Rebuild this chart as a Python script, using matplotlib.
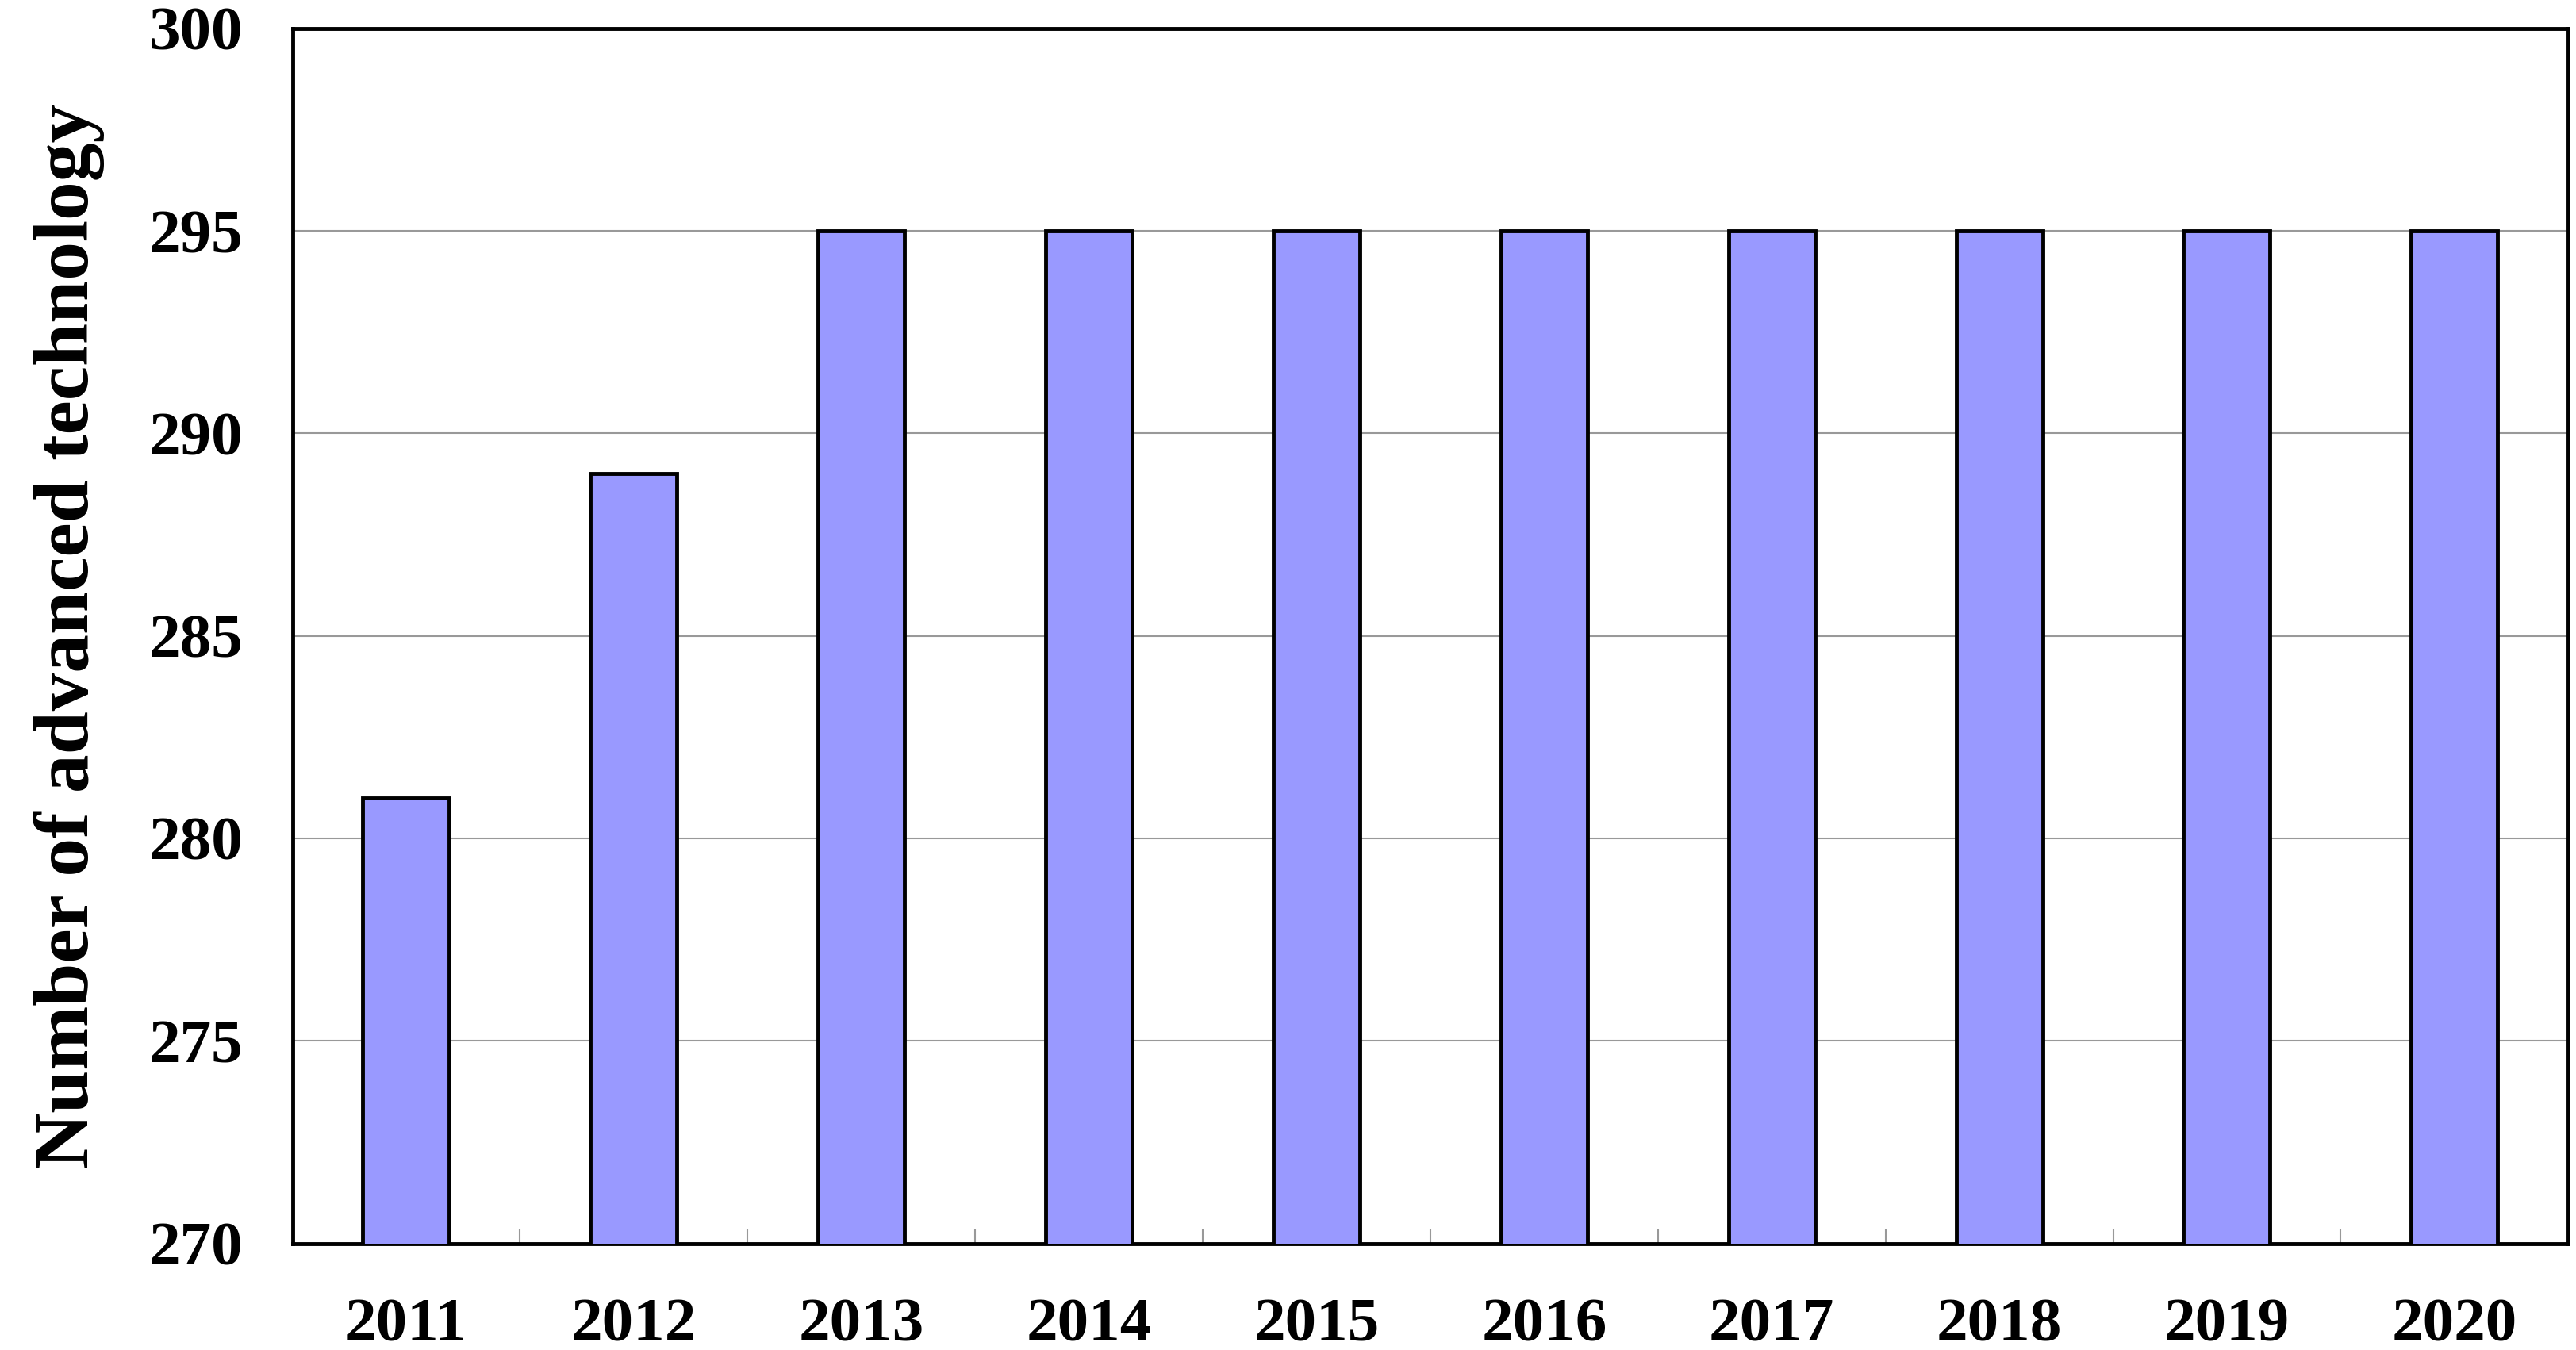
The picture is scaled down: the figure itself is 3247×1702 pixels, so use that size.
import matplotlib.pyplot as plt
import numpy as np

years = ['2011', '2012', '2013', '2014', '2015', '2016', '2017', '2018', '2019', '2020']
counts = [281, 289, 295, 295, 295, 295, 295, 295, 295, 295]

plt.rcParams['font.family'] = ['Liberation Serif', 'DejaVu Serif']
plt.rcParams['font.weight'] = 'bold'

fig = plt.figure(figsize=(32.47, 17.02), dpi=100)
ax = fig.add_axes([0.1135, 0.079, 0.8835, 0.9])

x = np.arange(len(years))
ax.bar(x, counts, width=0.38, color='#9999FF', edgecolor='black', linewidth=3.5, zorder=3)

ax.set_ylim(270, 300)
ax.set_xlim(-0.5, len(years) - 0.5)
ax.set_yticks(np.arange(270, 301, 5))
ax.yaxis.grid(True, color='#999999', linewidth=1.5, zorder=0)
ax.set_xticks(x)
ax.set_xticklabels(years)
ax.set_xticks(np.arange(0.5, len(years) - 1, 1), minor=True)
ax.tick_params(axis='x', which='major', length=0, pad=50, labelsize=57)
ax.tick_params(axis='x', which='minor', direction='in', length=14, width=1.5, color='#999999')
ax.tick_params(axis='y', length=0, pad=45, labelsize=57)
for s in ax.spines.values():
    s.set_linewidth(3.5)

ax.set_ylabel('Number of advanced technology', fontsize=70, fontweight='bold', labelpad=40)

fig.savefig('out.png', dpi=100)
